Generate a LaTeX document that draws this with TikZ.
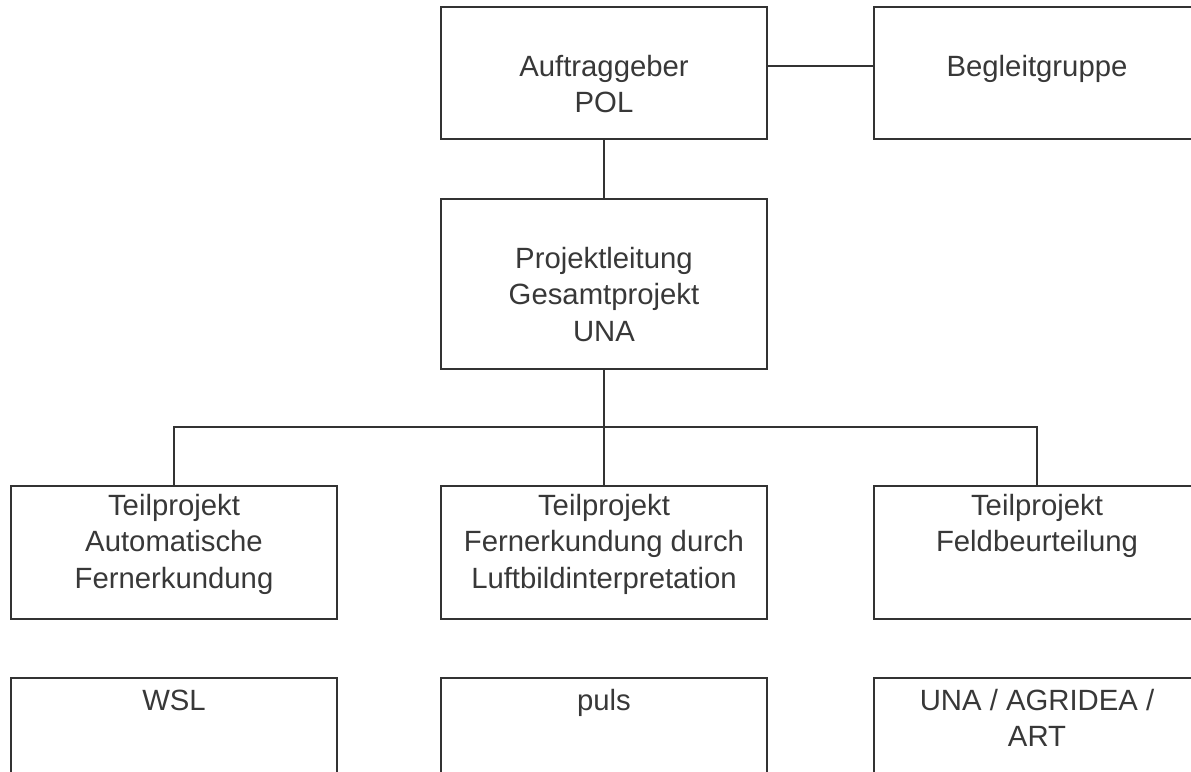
\documentclass[tikz,border=0pt]{standalone}
\usepackage{fontspec}
\setmainfont{Liberation Sans}
\begin{document}
\begin{tikzpicture}[x=1pt,y=-1pt,
  box/.style={draw=linegray, line width=2pt, minimum width=326pt, inner sep=0pt},
  lbl/.style={anchor=base, align=center, text=textgray, inner sep=0pt,
    font=\fontsize{29.3pt}{36.7pt}\selectfont},
  conn/.style={draw=linegray, line width=2pt}]
\definecolor{linegray}{HTML}{333333}
\definecolor{textgray}{HTML}{383838}
\useasboundingbox (0,0) rectangle (1191,771);
\clip (0,0) rectangle (1191,771);
% boxes
\node[box, minimum height=132pt] (auf) at (604,73) {};
\node[box, minimum height=132pt] (beg) at (1037,73) {};
\node[box, minimum height=170pt] (pl) at (604,284) {};
\node[box, minimum height=133pt] (t1) at (174,552.5) {};
\node[box, minimum height=133pt] (t2) at (604,552.5) {};
\node[box, minimum height=133pt] (t3) at (1037,552.5) {};
\node[box, minimum height=133pt] (b1) at (174,744.5) {};
\node[box, minimum height=133pt] (b2) at (604,744.5) {};
\node[box, minimum height=133pt] (b3) at (1037,744.5) {};
% labels (anchor = baseline of the last line)
\node[lbl] (auf-t) at (604,112.7) {Auftraggeber\\POL};
\node[lbl] (beg-t) at (1037,76) {Begleitgruppe};
\node[lbl] (pl-t) at (604,341.4) {Projektleitung\\Gesamtprojekt\\UNA};
\node[lbl] (t1-t) at (174,588.4) {Teilprojekt\\Automatische\\Fernerkundung};
\node[lbl] (t2-t) at (604,588.4) {Teilprojekt\\Fernerkundung durch\\Luftbildinterpretation};
\node[lbl] (t3-t) at (1037,551.7) {Teilprojekt\\Feldbeurteilung};
\node[lbl] (b1-t) at (174,710) {WSL};
\node[lbl] (b2-t) at (604,710) {puls};
\node[lbl] (b3-t) at (1037,746.7) {UNA / AGRIDEA /\\ART};
% connectors
\coordinate (bus) at (0,427);
\draw[conn] ([yshift=7pt]auf.east) -- ([yshift=7pt]beg.west);
\draw[conn] (auf.south) -- (pl.north);
\draw[conn] (pl.south) -- (t2.north);
\draw[conn] (t1.north) -- (t1.north |- bus) -- (t3.north |- bus) -- (t3.north);
\end{tikzpicture}
\end{document}
